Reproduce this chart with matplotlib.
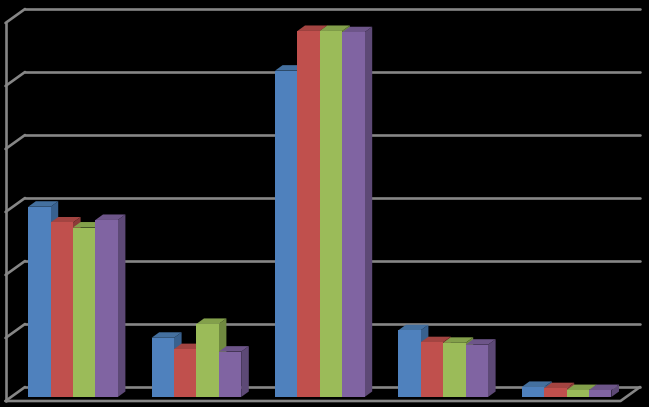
import matplotlib
matplotlib.use("Agg")
import matplotlib.pyplot as plt
from matplotlib.patches import Polygon

# Valores
series_a = [30.2, 9.4, 51.8, 10.6, 1.6]
series_b = [27.7, 7.6, 58.1, 8.7, 1.4]
series_c = [26.9, 11.6, 58.1, 8.6, 1.1]
series_d = [28.1, 7.2, 57.9, 8.3, 1.1]
grid_values = [0, 10, 20, 30, 40, 50, 60]

front_colors = ["#4f81bd", "#c0504d", "#9bbb59", "#8064a2"]
top_colors = ["#44709f", "#a34441", "#83a04b", "#6d5589"]
side_colors = ["#38618f", "#8c3b38", "#708a40", "#5d4976"]
line_color = "#868686"

# Escala: 1 categoria = 123.4 px, 1 unidade = 6.3 px
PX_X = 123.4
PX_Y = 6.3
bar_w = 22.4 / PX_X
bar_dx = 7.6 / PX_X
bar_dy = 5.5 / PX_Y
wall_dx = 19.5 / PX_X
wall_dy = 14 / PX_Y
floor_y = -4 / PX_Y
left_x = -67.5 / PX_X
right_x = 567 / PX_X

fig = plt.figure(figsize=(6.49, 4.07), dpi=100, facecolor="black")
ax = fig.add_axes([0, 0, 1, 1], facecolor="black")
ax.set_xlim(-73 / PX_X, 576 / PX_X)
ax.set_ylim(-10 / PX_Y, 397 / PX_Y)
ax.axis("off")

# Paredes e linhas de grade
grid_kw = dict(color=line_color, lw=1.9, solid_capstyle="round", zorder=1)
for v in grid_values:
    back_y = v + floor_y + wall_dy
    ax.plot([left_x, left_x + wall_dx], [v + floor_y, back_y], **grid_kw)
    ax.plot([left_x + wall_dx, right_x], [back_y, back_y], **grid_kw)
ax.plot([left_x, left_x], [floor_y, grid_values[-1] + floor_y], **grid_kw)
ax.plot([left_x, right_x - wall_dx, right_x], [floor_y, floor_y, floor_y + wall_dy], **grid_kw)

# Barras com efeito 3D
all_series = [series_a, series_b, series_c, series_d]
for i in range(5):
    for s, values in enumerate(all_series):
        v = values[i]
        x0 = i + (s - 2) * bar_w
        x1 = x0 + bar_w
        ax.add_patch(Polygon([(x1, 0), (x1 + bar_dx, bar_dy), (x1 + bar_dx, v + bar_dy), (x1, v)],
                             facecolor=side_colors[s], edgecolor="none", zorder=2))
        ax.add_patch(Polygon([(x0, v), (x0 + bar_dx, v + bar_dy), (x1 + bar_dx, v + bar_dy), (x1, v)],
                             facecolor=top_colors[s], edgecolor="none", zorder=2))
        ax.bar(x0, v, width=bar_w, align="edge", color=front_colors[s], zorder=2)

plt.savefig("out.png", dpi=100, facecolor="black")
